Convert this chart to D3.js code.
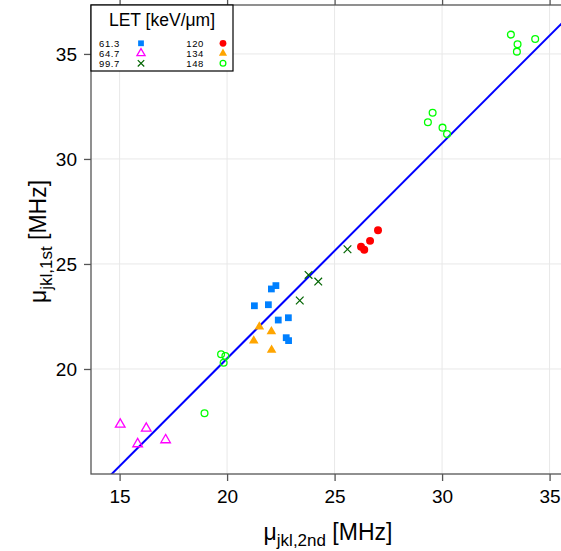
<!DOCTYPE html>
<html>
<head>
<meta charset="utf-8">
<script src="https://cdn.jsdelivr.net/npm/d3@7"></script>
<style>
  html, body { margin: 0; padding: 0; background: #fff; }
  svg { display: block; font-family: "Liberation Sans", Arial, sans-serif; }
</style>
</head>
<body>
<svg id="chart" width="561" height="551"></svg>
<script>
// LET groups (keV/µm) and their symbols
const letLabels = ["61.3", "64.7", "99.7", "120", "134", "148"];
const letColors = ["#0080ff", "#ff00ff", "#006400", "#ff0000", "#ffa500", "#00ff00"];
const letShapes = ["square", "triangleOpen", "times", "circle", "triangle", "circleOpen"];

// µ_jkl from 2nd-order fit (x) and 1st-order fit (y), MHz, per LET group
const x61 = [21.27, 21.92, 22.06, 22.27, 22.38, 22.85, 22.75, 22.86];
const y61 = [23.01, 23.06, 23.81, 23.97, 22.33, 22.44, 21.49, 21.35];
const x64 = [15.03, 16.24, 15.84, 17.14];
const y64 = [17.36, 17.17, 16.43, 16.62];
const x99 = [25.60, 23.79, 24.24, 23.38];
const y99 = [25.70, 24.48, 24.16, 23.26];
const x120 = [27.02, 26.65, 26.23, 26.38];
const y120 = [26.60, 26.10, 25.82, 25.68];
const x134 = [21.50, 22.06, 21.24, 22.07];
const y134 = [22.01, 21.78, 21.34, 20.90];
const x148 = [19.72, 19.92, 19.84, 18.95, 33.20, 34.33, 33.51, 33.48, 29.56, 29.34, 30.02, 30.23];
const y148 = [20.70, 20.62, 20.30, 17.89, 35.92, 35.71, 35.46, 35.11, 32.20, 31.75, 31.49, 31.19];

// linear fit: intercept, slope
const fitLine = [0.0, 1.025];

const xTicks = [15, 20, 25, 30, 35];
const yTicks = [20, 25, 30, 35];

const groupsX = [x61, x64, x99, x120, x134, x148];
const groupsY = [y61, y64, y99, y120, y134, y148];

const svg = d3.select("#chart");
const plot = { left: 91, top: 5, bottom: 474, right: 590 };

const x = d3.scaleLinear().domain([13.67, 36.88]).range([plot.left, plot.right]);
const y = d3.scaleLinear().domain([15.0, 37.33]).range([plot.bottom, plot.top]);

const axisColor = "#555";
const gridColor = "#e8e8e8";

// grid
const grid = svg.append("g");
grid.selectAll("line.v").data(xTicks).join("line")
  .attr("x1", d => x(d)).attr("x2", d => x(d))
  .attr("y1", plot.top).attr("y2", plot.bottom)
  .attr("stroke", gridColor).attr("stroke-width", 1);
grid.selectAll("line.h").data(yTicks).join("line")
  .attr("x1", plot.left).attr("x2", plot.right)
  .attr("y1", d => y(d)).attr("y2", d => y(d))
  .attr("stroke", gridColor).attr("stroke-width", 1);

// clip for plot contents
svg.append("clipPath").attr("id", "clip").append("rect")
  .attr("x", plot.left).attr("y", plot.top)
  .attr("width", plot.right - plot.left).attr("height", plot.bottom - plot.top);

// fit line
const xd = x.domain();
svg.append("line")
  .attr("clip-path", "url(#clip)")
  .attr("x1", x(xd[0])).attr("y1", y(fitLine[0] + fitLine[1] * xd[0]))
  .attr("x2", x(xd[1])).attr("y2", y(fitLine[0] + fitLine[1] * xd[1]))
  .attr("stroke", "#0000ff").attr("stroke-width", 2);

// symbol drawing helper
function drawSymbol(sel, shape, color, scale) {
  const s = scale || 1;
  if (shape === "square") {
    sel.attr("d", d3.symbol(d3.symbolSquare, 46 * s * s)())
      .attr("fill", color).attr("stroke", "none");
  } else if (shape === "triangle") {
    sel.attr("d", d3.symbol(d3.symbolTriangle, 40 * s * s)())
      .attr("fill", color).attr("stroke", "none");
  } else if (shape === "triangleOpen") {
    sel.attr("d", d3.symbol(d3.symbolTriangle, 40 * s * s)())
      .attr("fill", "none").attr("stroke", color).attr("stroke-width", 1.3);
  } else if (shape === "times") {
    sel.attr("d", d3.symbol(d3.symbolTimes, 40 * s * s)())
      .attr("fill", "none").attr("stroke", color).attr("stroke-width", 1.2);
  } else if (shape === "circle") {
    sel.attr("d", d3.symbol(d3.symbolCircle, 50 * s * s)())
      .attr("fill", color).attr("stroke", "none");
  } else if (shape === "circleOpen") {
    sel.attr("d", d3.symbol(d3.symbolCircle, 36 * s * s)())
      .attr("fill", "none").attr("stroke", color).attr("stroke-width", 1.3);
  }
}

// points
const pts = svg.append("g").attr("clip-path", "url(#clip)");
groupsX.forEach((gx, i) => {
  const data = gx.map((v, j) => [v, groupsY[i][j]]);
  pts.append("g").selectAll("path").data(data).join("path")
    .attr("transform", d => `translate(${x(d[0])},${y(d[1])})`)
    .each(function () { drawSymbol(d3.select(this), letShapes[i], letColors[i], 1); });
});

// axes
const tickLen = 7;
const xAxisB = d3.axisBottom(x).tickValues(xTicks).tickSize(tickLen).tickPadding(9).tickFormat(d3.format("d"));
const xAxisT = d3.axisTop(x).tickValues(xTicks).tickSize(tickLen).tickFormat("");
const yAxisL = d3.axisLeft(y).tickValues(yTicks).tickSize(tickLen).tickPadding(7).tickFormat(d3.format("d"));

function styleAxis(g) {
  g.select(".domain").remove();
  g.selectAll(".tick line").attr("stroke", axisColor).attr("stroke-width", 1.3);
  g.selectAll(".tick text").attr("fill", "#000").style("font-size", "19px")
    .style("font-family", "'Liberation Sans', Arial, sans-serif");
}
svg.append("g").attr("transform", `translate(0,${plot.bottom})`).call(xAxisB).call(styleAxis);
svg.append("g").attr("transform", `translate(0,${plot.top})`).call(xAxisT).call(styleAxis);
svg.append("g").attr("transform", `translate(${plot.left},0)`).call(yAxisL).call(styleAxis);

// frame
svg.append("rect")
  .attr("x", plot.left).attr("y", plot.top)
  .attr("width", plot.right - plot.left).attr("height", plot.bottom - plot.top)
  .attr("fill", "none").attr("stroke", axisColor).attr("stroke-width", 1.3);

// axis titles
const xt = svg.append("text")
  .attr("x", 328).attr("y", 540)
  .attr("text-anchor", "middle").style("font-size", "23px").attr("fill", "#000");
xt.append("tspan").text("\u03bc");
xt.append("tspan").attr("dy", 6).style("font-size", "17px").text("jkl,2nd");
xt.append("tspan").attr("dy", -6).text(" [MHz]");

const yt = svg.append("text")
  .attr("transform", `translate(46,${(plot.top + plot.bottom) / 2 + 2}) rotate(-90)`)
  .attr("text-anchor", "middle").style("font-size", "23px").attr("fill", "#000");
yt.append("tspan").text("\u03bc");
yt.append("tspan").attr("dy", 6).style("font-size", "17px").text("jkl,1st");
yt.append("tspan").attr("dy", -6).text(" [MHz]");

// legend
const lg = svg.append("g");
lg.append("rect").attr("x", 91).attr("y", 5).attr("width", 142).attr("height", 66)
  .attr("fill", "#fff").attr("stroke", "#000").attr("stroke-width", 1.2);
lg.append("text").attr("x", 162).attr("y", 26).attr("text-anchor", "middle")
  .style("font-size", "17.5px").attr("fill", "#000").text("LET [keV/\u03bcm]");

letLabels.forEach((lab, i) => {
  const col = Math.floor(i / 3), row = i % 3;
  const cy = 43.3 + row * 10;
  lg.append("text")
    .attr("x", col === 0 ? 99 : 204)
    .attr("y", cy + 3.5)
    .attr("text-anchor", col === 0 ? "start" : "end")
    .style("font-size", "9.5px").style("letter-spacing", "0.6px")
    .attr("fill", "#000").text(lab);
  lg.append("path")
    .attr("transform", `translate(${col === 0 ? 141 : 223},${cy})`)
    .each(function () { drawSymbol(d3.select(this), letShapes[i], letColors[i], 0.85); });
});
</script>
</body>
</html>
